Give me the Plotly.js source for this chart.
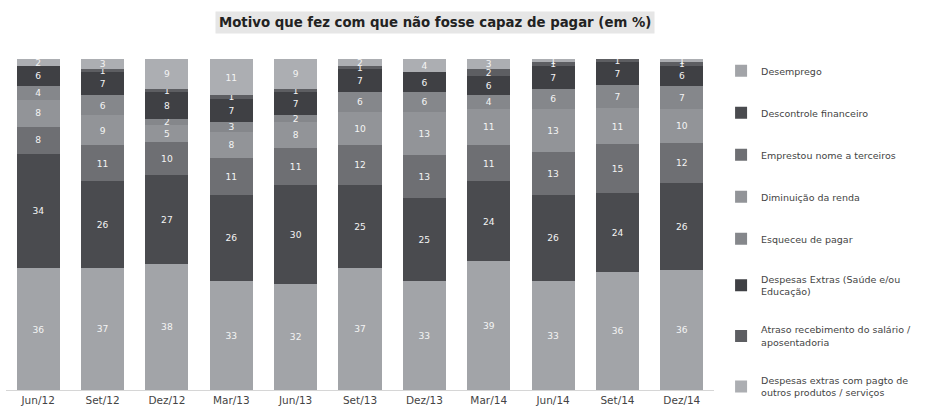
<!DOCTYPE html>
<html>
<head>
<meta charset="utf-8">
<script src="https://cdn.plot.ly/plotly-3.0.1.min.js"></script>
<style>html,body{margin:0;padding:0;background:#fff;}#chart{width:944px;height:410px;}</style>
</head>
<body>
<div id="chart"></div>
<script>
const categories = ["Jun/12","Set/12","Dez/12","Mar/13","Jun/13","Set/13","Dez/13","Mar/14","Jun/14","Set/14","Dez/14"];
const seriesNames = [
  "Desemprego",
  "Descontrole financeiro",
  "Emprestou nome a terceiros",
  "Diminuição da renda",
  "Esqueceu de pagar",
  "Despesas Extras (Saúde e/ou<br>Educação)",
  "Atraso recebimento do salário /<br>aposentadoria",
  "Despesas extras com pagto de<br>outros produtos / serviços"
];
const desemprego   = [36,37,38,33,32,37,33,39,33,36,36];
const descontrole  = [34,26,27,26,30,25,25,24,26,24,26];
const emprestou    = [8,11,10,11,11,12,13,11,13,15,12];
const diminuicao   = [8,9,5,8,8,10,13,11,13,11,10];
const esqueceu     = [4,6,2,3,2,6,6,4,6,7,7];
const despSaude    = [6,7,8,7,7,7,6,6,7,7,6];
const atraso       = [null,1,1,1,1,1,null,2,1,1,1];
const despOutros   = [2,3,9,11,9,2,4,3,1,null,1];
const seriesValues = [desemprego,descontrole,emprestou,diminuicao,esqueceu,despSaude,atraso,despOutros];
const seriesColors = ["#a2a4a8","#4a4b4f","#6e6f73","#929498","#85878b","#3f4044","#5d5e62","#acaeb2"];

const FONT = 'DejaVu Sans, Verdana, sans-serif';

const traces = seriesValues.map((vals,i)=>({
  type:'bar',
  name: seriesNames[i],
  x: categories,
  y: vals,
  text: vals.map(v => v ? String(v) : ''),
  textposition:'inside',
  insidetextanchor:'middle',
  textangle:0,
  textfont:{family:FONT, size:9.5, color:'#f4f4f4'},
  marker:{color: seriesColors[i], line:{width:0}},
  legendgroup:'g'+i,
  hoverinfo:'skip'
}));

const layout = {
  width:944, height:410,
  margin:{l:6, r:230, t:59, b:20},
  paper_bgcolor:'#ffffff', plot_bgcolor:'#ffffff',
  barmode:'stack',
  barnorm:'percent',
  bargap:0.33,
  uniformtext:{mode:'show', minsize:8},
  font:{family:FONT, size:10, color:'#444'},
  xaxis:{
    showgrid:false, showline:true, linecolor:'#d6d6d6', linewidth:1,
    ticks:'', tickfont:{family:FONT, size:10.5, color:'#444'}, fixedrange:true
  },
  yaxis:{range:[0,100], visible:false, fixedrange:true},
  showlegend:true,
  legend:{
    x:1.01, xanchor:'left', y:1.008, yanchor:'top',
    traceorder:'grouped', tracegroupgap:23,
    maxheight:400,
    font:{family:FONT, size:9.5, color:'#444'},
    itemwidth:30, bgcolor:'rgba(0,0,0,0)'
  },
  annotations:[{
    text:'<b>Motivo que fez com que não fosse capaz de pagar (em %)</b>',
    xref:'paper', yref:'paper', x:0.606, y:1.0, yshift:37, xanchor:'center', yanchor:'middle',
    showarrow:false, bgcolor:'#e6e6e6', borderpad:3,
    font:{family:FONT, size:13.3, color:'#222'}
  }]
};

Plotly.newPlot('chart', traces, layout, {displayModeBar:false, staticPlot:true});
</script>
</body>
</html>
